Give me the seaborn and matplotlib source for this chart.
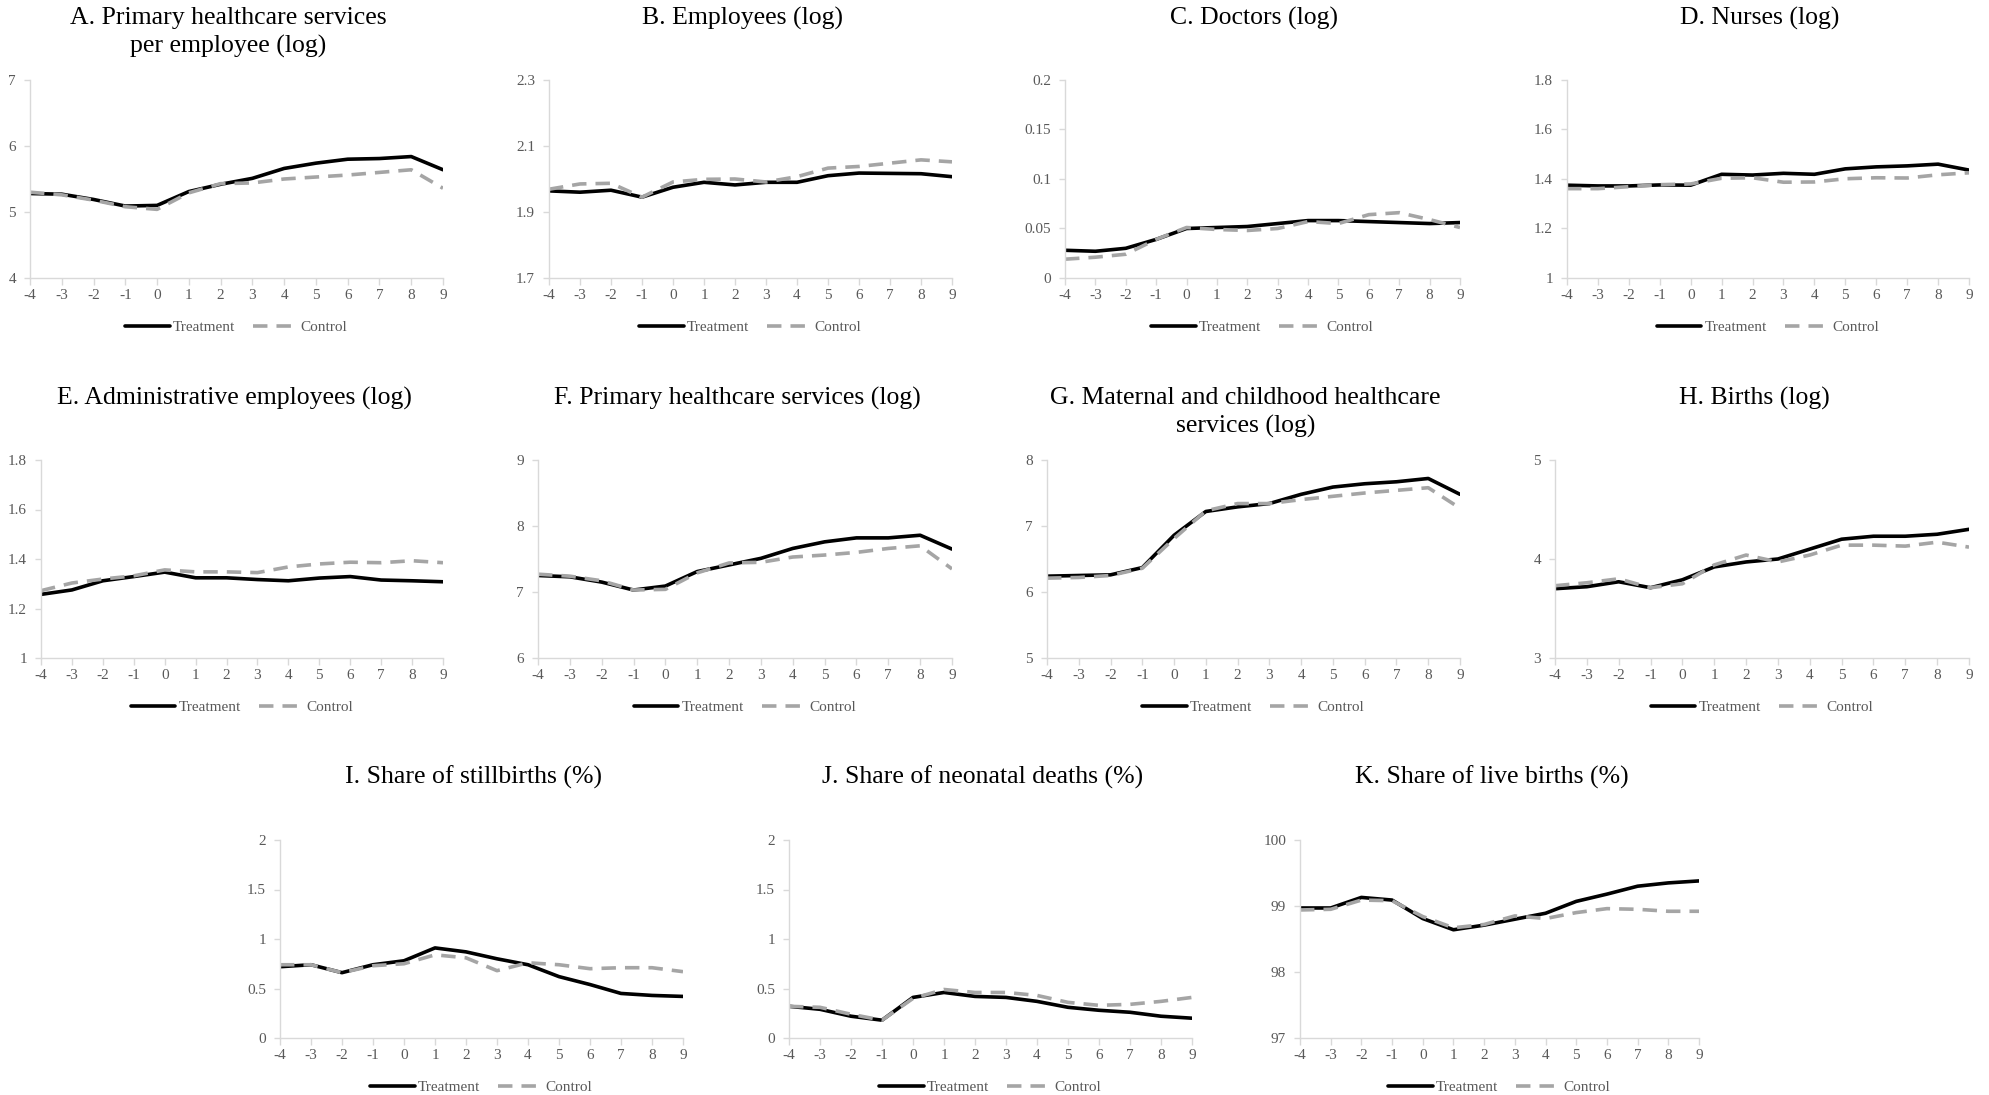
import matplotlib
matplotlib.use("Agg")
import matplotlib.pyplot as plt
import numpy as np
import pandas as pd
import seaborn as sns
from matplotlib.ticker import FuncFormatter

sns.set_style("white")
plt.rcParams['font.family'] = ['Liberation Serif', 'DejaVu Serif']
plt.rcParams['axes.unicode_minus'] = False

periods = list(range(-4, 10))

titles = [
    "A. Primary healthcare services\nper employee (log)",
    "B. Employees (log)",
    "C. Doctors (log)",
    "D. Nurses (log)",
    "E. Administrative employees (log)",
    "F. Primary healthcare services (log)",
    "G. Maternal and childhood healthcare\nservices (log)",
    "H. Births (log)",
    "I. Share of stillbirths (%)",
    "J. Share of neonatal deaths (%)",
    "K. Share of live births (%)",
]

treat_a = [5.28, 5.27, 5.19, 5.09, 5.10, 5.31, 5.42, 5.51, 5.66, 5.74, 5.80, 5.81, 5.84, 5.64]
ctrl_a = [5.30, 5.26, 5.18, 5.08, 5.04, 5.29, 5.43, 5.44, 5.50, 5.53, 5.56, 5.60, 5.64, 5.36]

treat_b = [1.964, 1.960, 1.966, 1.945, 1.975, 1.990, 1.982, 1.990, 1.990, 2.010, 2.018, 2.017, 2.016, 2.007]
ctrl_b = [1.969, 1.985, 1.987, 1.945, 1.991, 1.999, 2.000, 1.991, 2.007, 2.033, 2.038, 2.048, 2.058, 2.052]

treat_c = [0.028, 0.027, 0.030, 0.039, 0.050, 0.051, 0.052, 0.055, 0.058, 0.058, 0.057, 0.056, 0.055, 0.056]
ctrl_c = [0.019, 0.021, 0.024, 0.039, 0.051, 0.049, 0.048, 0.050, 0.057, 0.055, 0.064, 0.066, 0.059, 0.051]

treat_d = [1.375, 1.372, 1.372, 1.376, 1.375, 1.419, 1.416, 1.423, 1.419, 1.441, 1.449, 1.453, 1.460, 1.436]
ctrl_d = [1.361, 1.361, 1.369, 1.377, 1.380, 1.403, 1.405, 1.387, 1.388, 1.401, 1.405, 1.404, 1.417, 1.425]

treat_e = [1.257, 1.275, 1.312, 1.329, 1.347, 1.324, 1.324, 1.317, 1.312, 1.323, 1.329, 1.315, 1.312, 1.308]
ctrl_e = [1.272, 1.303, 1.319, 1.332, 1.356, 1.348, 1.348, 1.345, 1.368, 1.380, 1.387, 1.385, 1.393, 1.385]

treat_f = [7.25, 7.23, 7.15, 7.03, 7.09, 7.31, 7.41, 7.51, 7.66, 7.76, 7.82, 7.82, 7.86, 7.65]
ctrl_f = [7.27, 7.24, 7.17, 7.03, 7.04, 7.29, 7.44, 7.45, 7.53, 7.56, 7.60, 7.66, 7.70, 7.35]

treat_g = [6.24, 6.25, 6.26, 6.37, 6.86, 7.22, 7.29, 7.34, 7.48, 7.59, 7.64, 7.67, 7.72, 7.48]
ctrl_g = [6.21, 6.22, 6.25, 6.36, 6.81, 7.23, 7.34, 7.34, 7.40, 7.45, 7.50, 7.54, 7.58, 7.27]

treat_h = [3.70, 3.72, 3.77, 3.71, 3.79, 3.92, 3.97, 4.00, 4.10, 4.20, 4.23, 4.23, 4.25, 4.30]
ctrl_h = [3.73, 3.76, 3.80, 3.71, 3.75, 3.94, 4.04, 3.97, 4.04, 4.14, 4.14, 4.13, 4.17, 4.12]

treat_i = [0.72, 0.74, 0.66, 0.74, 0.78, 0.91, 0.87, 0.80, 0.74, 0.62, 0.54, 0.45, 0.43, 0.42]
ctrl_i = [0.74, 0.74, 0.66, 0.73, 0.75, 0.84, 0.81, 0.68, 0.76, 0.74, 0.70, 0.71, 0.71, 0.67]

treat_j = [0.32, 0.29, 0.22, 0.18, 0.41, 0.46, 0.42, 0.41, 0.37, 0.31, 0.28, 0.26, 0.22, 0.20]
ctrl_j = [0.32, 0.31, 0.24, 0.18, 0.40, 0.49, 0.46, 0.46, 0.43, 0.36, 0.33, 0.34, 0.37, 0.41]

treat_k = [98.97, 98.97, 99.13, 99.09, 98.81, 98.64, 98.71, 98.80, 98.89, 99.07, 99.18, 99.30, 99.35, 99.38]
ctrl_k = [98.94, 98.95, 99.09, 99.08, 98.84, 98.67, 98.72, 98.85, 98.81, 98.90, 98.96, 98.95, 98.92, 98.92]

treatment = [treat_a, treat_b, treat_c, treat_d, treat_e, treat_f, treat_g, treat_h, treat_i, treat_j, treat_k]
control = [ctrl_a, ctrl_b, ctrl_c, ctrl_d, ctrl_e, ctrl_f, ctrl_g, ctrl_h, ctrl_i, ctrl_j, ctrl_k]

# y axis range and tick step per panel
y_axes = [(4, 7, 1), (1.7, 2.3, 0.2), (0, 0.2, 0.05), (1, 1.8, 0.2),
          (1, 1.8, 0.2), (6, 9, 1), (5, 8, 1), (3, 5, 1),
          (0, 2, 0.5), (0, 2, 0.5), (97, 100, 1)]

# axes boxes in pixels: left, right, top, bottom
W, H = 1989, 1095
boxes = [(30, 443, 80, 278), (549, 952, 80, 278), (1065, 1460, 80, 278), (1567, 1969, 80, 278),
         (41, 443, 460, 658), (538, 952, 460, 658), (1047, 1460, 460, 658), (1555, 1969, 460, 658),
         (280, 683, 840, 1038), (789, 1192, 840, 1038), (1300, 1699, 840, 1038)]
title_tops = [7, 7, 7, 7, 387, 387, 387, 387, 766, 766, 766]

axis_grey = "#D9D9D9"
text_grey = "#595959"

fig = plt.figure(figsize=(W / 100, H / 100), dpi=100)

for k in range(len(titles)):
    l, r, t, b = boxes[k]
    ax = fig.add_axes([l / W, 1 - b / H, (r - l) / W, (b - t) / H])
    df = pd.DataFrame({
        "period": periods * 2,
        "value": treatment[k] + control[k],
        "group": ["Treatment"] * len(periods) + ["Control"] * len(periods),
    })
    sns.lineplot(data=df, x="period", y="value", hue="group", style="group",
                 hue_order=["Treatment", "Control"], style_order=["Treatment", "Control"],
                 palette={"Treatment": "black", "Control": "#A5A5A5"},
                 dashes={"Treatment": "", "Control": (4, 2.5)},
                 linewidth=2.6, ax=ax)
    lo, hi, step = y_axes[k]
    ax.set_ylim(lo, hi)
    ax.set_yticks(np.arange(lo, hi + step / 2, step))
    ax.yaxis.set_major_formatter(FuncFormatter(lambda v, p: "{:g}".format(round(v, 4))))
    ax.set_xlim(-4, 9)
    ax.set_xticks(periods)
    ax.set_xticklabels([str(p) for p in periods])
    ax.set_xlabel("")
    ax.set_ylabel("")
    for side in ["top", "right"]:
        ax.spines[side].set_visible(False)
    for side in ["left", "bottom"]:
        ax.spines[side].set_color(axis_grey)
        ax.spines[side].set_linewidth(1.0)
    ax.tick_params(axis="x", length=5, width=1, color=axis_grey, labelcolor=text_grey,
                   labelsize=11, pad=3, direction="out", bottom=True)
    ax.tick_params(axis="y", length=4, width=1, color=axis_grey, labelcolor=text_grey,
                   labelsize=11, pad=6, direction="out", left=True)
    handles, labels = ax.get_legend_handles_labels()
    ax.legend(handles, labels, loc="center", bbox_to_anchor=(0.5, -0.25), ncol=2,
              frameon=False, fontsize=11, handlelength=2.9, handletextpad=0.2,
              columnspacing=1.2, labelcolor=text_grey)
    cx = (l + r) / 2 - 8
    fig.text(cx / W, 1 - title_tops[k] / H, titles[k], ha="center", va="top",
             fontsize=18.5, linespacing=1.35, color="black")

fig.savefig("out.png", dpi=100)
